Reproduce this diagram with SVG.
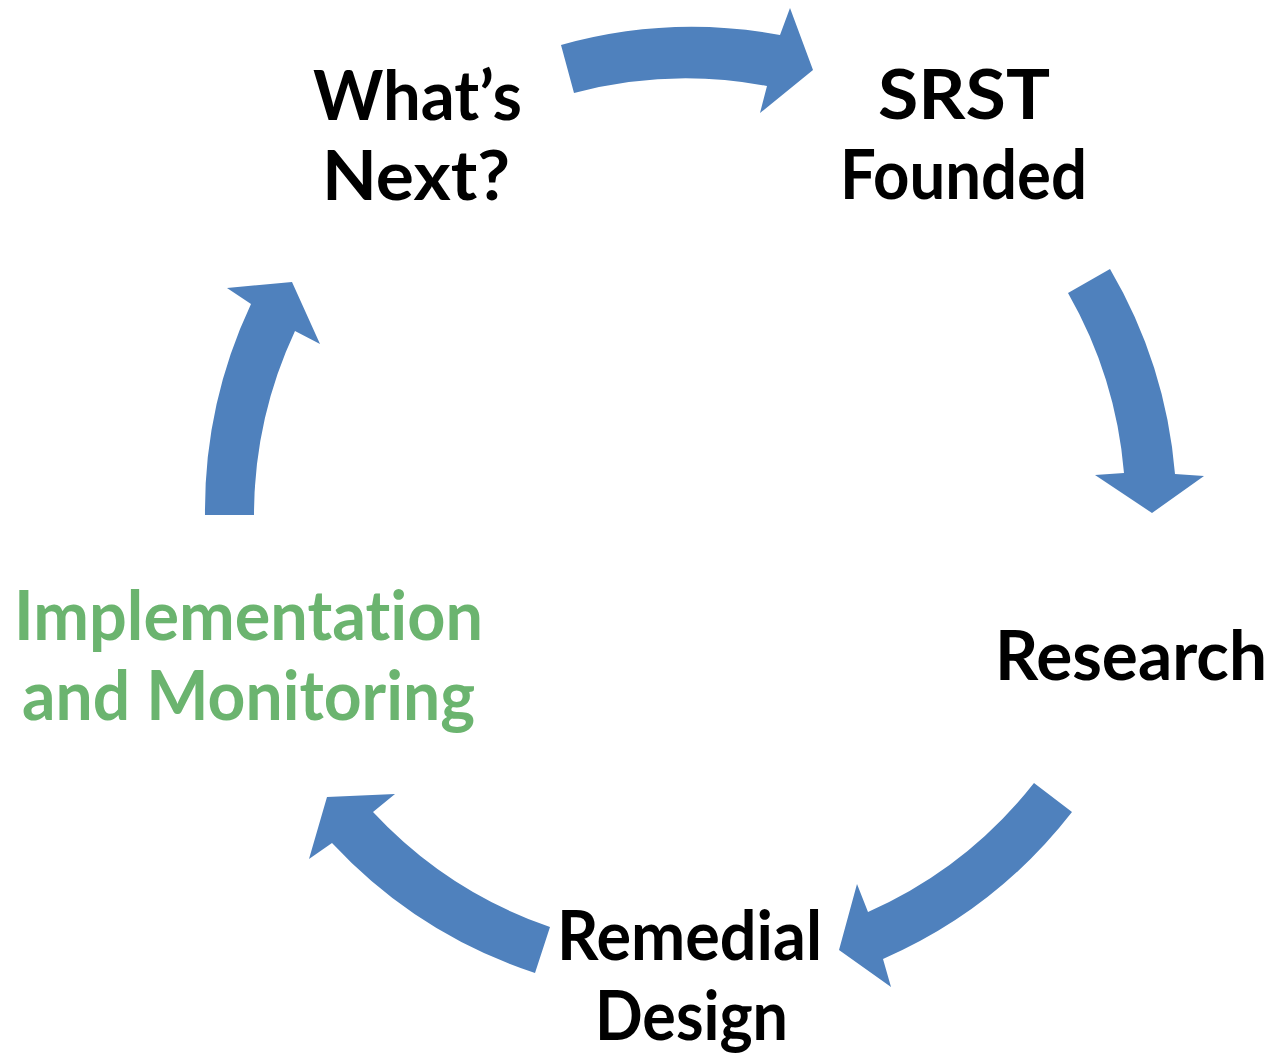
<svg xmlns="http://www.w3.org/2000/svg" width="1276" height="1057" viewBox="0 0 1276 1057">
<style>
.arrow{fill:#4f81bd;stroke:none}
.lbl{font-family:"Comic Sans MS",Lato,"DejaVu Sans",sans-serif;font-weight:bold;font-size:69px;fill:#000;text-anchor:start;font-variant-ligatures:none;font-feature-settings:"liga" 0,"dlig" 0}
.green{fill:#6bb46f}
</style>
<rect width="1276" height="1057" fill="#fff"/>
<g id="connectors">
<path id="a1" class="arrow" d="M561,45 A485,485 0 0 1 780,35 L790,8 L813,70 L760,113 L767,86 A436,436 0 0 0 574,93 Z"/>
<path id="a2" class="arrow" d="M1110,269 A485,485 0 0 1 1175,474 L1204,476 L1152,513 L1095,475 L1124,473 A436,436 0 0 0 1068,293 Z"/>
<path id="a3" class="arrow" d="M1072,812 A485,485 0 0 1 883,959 L891,987 L839,950 L857,884 L868,912 A436,436 0 0 0 1034,783 Z"/>
<path id="a4" class="arrow" d="M535,973 A485,485 0 0 1 332,843 L309,859 L327,797 L395,794 L373,812 A436,436 0 0 0 550,927 Z"/>
<path id="a5" class="arrow" d="M205,515 A485,485 0 0 1 251,304 L227,288 L292,282 L320,344 L295,331 A436,436 0 0 0 254,515 Z"/>
</g>
<g id="node-whats-next">
<text class="lbl" x="313" y="120" textLength="209" lengthAdjust="spacingAndGlyphs">What’s</text>
<text class="lbl" x="322" y="200" textLength="188" lengthAdjust="spacingAndGlyphs">Next?</text>
</g>
<g id="node-srst-founded">
<text class="lbl" x="878" y="119" textLength="172" lengthAdjust="spacingAndGlyphs">SRST</text>
<text class="lbl" x="840" y="199" textLength="247" lengthAdjust="spacingAndGlyphs">Founded</text>
</g>
<g id="node-research">
<text class="lbl" x="995" y="680" textLength="272" lengthAdjust="spacingAndGlyphs">Research</text>
</g>
<g id="node-remedial-design">
<text class="lbl" x="557" y="960" textLength="265" lengthAdjust="spacingAndGlyphs">Remedial</text>
<text class="lbl" x="595" y="1040" textLength="193" lengthAdjust="spacingAndGlyphs">Design</text>
</g>
<g id="node-implementation">
<text class="lbl green" x="14" y="640" textLength="469" lengthAdjust="spacingAndGlyphs">Implementation</text>
<text class="lbl green" x="22" y="720" textLength="453" lengthAdjust="spacingAndGlyphs">and Monitoring</text>
</g>
</svg>
